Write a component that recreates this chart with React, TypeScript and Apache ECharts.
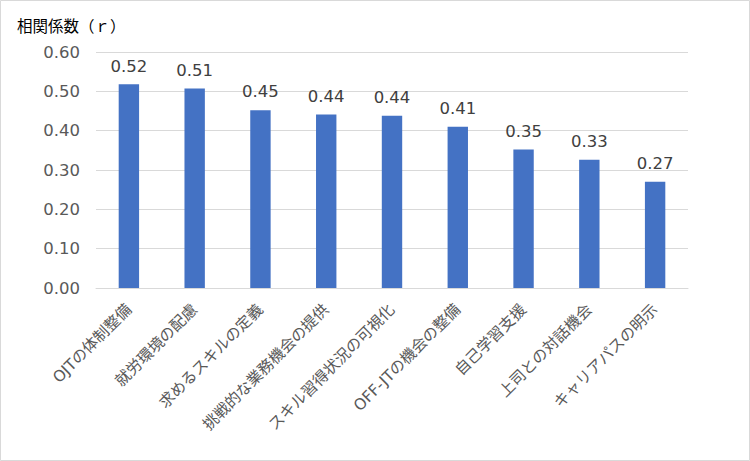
import React, { useEffect, useRef } from "react";
import * as echarts from "echarts";

const categories = [
  "OJTの体制整備",
  "就労環境の配慮",
  "求めるスキルの定義",
  "挑戦的な業務機会の提供",
  "スキル習得状況の可視化",
  "OFF-JTの機会の整備",
  "自己学習支援",
  "上司との対話機会",
  "キャリアパスの明示",
];
const values = [0.518, 0.507, 0.452, 0.441, 0.438, 0.41, 0.352, 0.326, 0.27];
const yTicks = { min: 0, max: 0.6, interval: 0.1 };
const yTitle = "相関係数（ｒ）";

const FONT = "'DejaVu Sans', 'Noto Sans CJK JP', sans-serif";

export default function App() {
  const ref = useRef<HTMLDivElement>(null);
  useEffect(() => {
    if (!ref.current) return;
    const chart = echarts.init(ref.current, null, { renderer: "svg" });
    chart.setOption({
      animation: false,
      backgroundColor: "#ffffff",
      textStyle: { fontFamily: FONT },
      graphic: [
        {
          type: "rect",
          shape: { x: 0.5, y: 0.5, width: 749, height: 460 },
          style: { fill: "none", stroke: "#d9d9d9", lineWidth: 1 },
          silent: true,
        },
        {
          type: "text",
          left: 17,
          top: 19,
          style: { text: yTitle, fontSize: 15.5, fill: "#000000", fontFamily: FONT },
        },
      ],
      grid: { left: 96, right: 62, top: 52, bottom: 173, containLabel: false },
      xAxis: {
        type: "category",
        data: categories,
        axisLine: { show: true, lineStyle: { color: "#d9d9d9" } },
        axisTick: { show: false },
        axisLabel: {
          rotate: 45,
          interval: 0,
          margin: 19,
          color: "#595959",
          fontSize: 15.5,
          fontFamily: FONT,
        },
      },
      yAxis: {
        type: "value",
        min: yTicks.min,
        max: yTicks.max,
        interval: yTicks.interval,
        axisLine: { show: false },
        axisTick: { show: false },
        splitLine: { lineStyle: { color: "#d9d9d9" } },
        axisLabel: {
          margin: 16,
          color: "#595959",
          fontSize: 16.5,
          fontFamily: FONT,
          formatter: (v: number) => v.toFixed(2),
        },
      },
      series: [
        {
          type: "bar",
          data: values,
          barWidth: "31%",
          itemStyle: { color: "#4472c4" },
          label: {
            show: true,
            position: "top",
            distance: 10,
            color: "#404040",
            fontSize: 16.5,
            fontFamily: FONT,
            formatter: (p: any) => Number(p.value).toFixed(2),
          },
        },
      ],
    });
    return () => chart.dispose();
  }, []);
  return (
    <div
      ref={ref}
      style={{ position: "absolute", left: 0, top: 0, width: 750, height: 461 }}
    />
  );
}
